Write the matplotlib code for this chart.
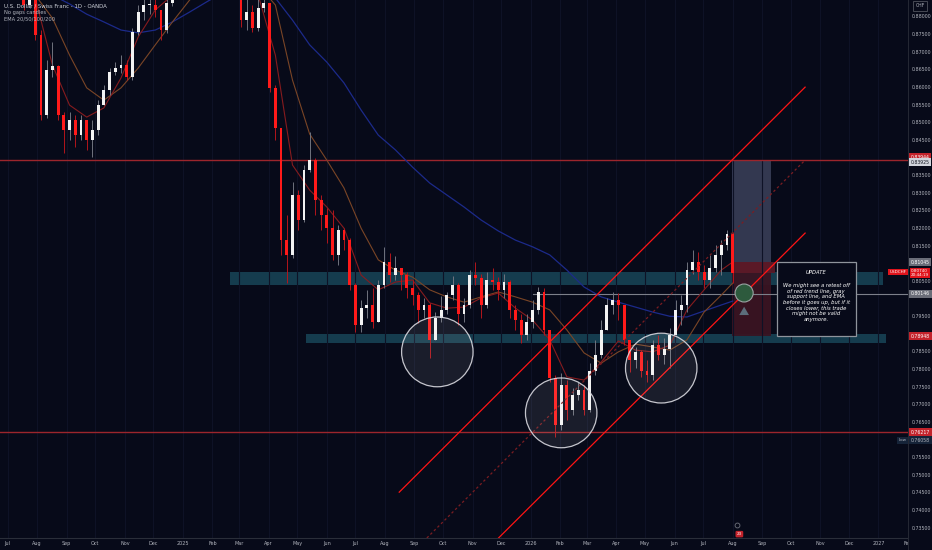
import matplotlib
matplotlib.use("Agg")
import matplotlib.pyplot as plt
import matplotlib.dates as mdates
from matplotlib.patches import Rectangle, Ellipse
from matplotlib.transforms import blended_transform_factory
import numpy as np
import pandas as pd

# USDCHF daily, every 6 days
candle_dates = pd.date_range("2024-06-24", periods=129, freq="6D")
first_open = 0.8930
closes = [0.8960, 0.8990, 0.8950, 0.8920, 0.8834, 0.8880, 0.8749, 0.8522, 0.8650, 0.8660,
          0.8522, 0.8479, 0.8508, 0.8465, 0.8508, 0.8451, 0.8479, 0.8550, 0.8593, 0.8644,
          0.8655, 0.8664, 0.8630, 0.8757, 0.8814, 0.8834, 0.8834, 0.8820, 0.8763, 0.8840,
          0.8890, 0.8930, 0.8970, 0.9000, 0.9020, 0.9050, 0.9080, 0.9040, 0.9060, 0.9000,
          0.8950, 0.8900, 0.8791, 0.8814, 0.8769, 0.8825, 0.8840, 0.8598, 0.8485, 0.8167,
          0.8125, 0.8295, 0.8224, 0.8366, 0.8394, 0.8281, 0.8238, 0.8201, 0.8125, 0.8196,
          0.8167, 0.8040, 0.7926, 0.7974, 0.7983, 0.7935, 0.8040, 0.8105, 0.8068, 0.8088,
          0.8068, 0.8031, 0.8011, 0.7969, 0.7983, 0.7884, 0.7946, 0.7969, 0.8011, 0.8040,
          0.7957, 0.7983, 0.8068, 0.8060, 0.7983, 0.8054, 0.8048, 0.8025, 0.8048, 0.7969,
          0.7940, 0.7898, 0.7935, 0.7969, 0.8020, 0.7912, 0.7776, 0.7642, 0.7756, 0.7685,
          0.7727, 0.7742, 0.7685, 0.7797, 0.7841, 0.7912, 0.7983, 0.7997, 0.7983, 0.7884,
          0.7827, 0.7850, 0.7797, 0.7784, 0.7870, 0.7841, 0.7858, 0.7898, 0.7969, 0.7983,
          0.8082, 0.8105, 0.8077, 0.8054, 0.8088, 0.8125, 0.8153, 0.8185, 0.8074]
highs = [0.8990, 0.9020, 0.9000, 0.8970, 0.8925, 0.8920, 0.8890, 0.8763, 0.8678, 0.8729,
         0.8664, 0.8530, 0.8530, 0.8522, 0.8522, 0.8508, 0.8508, 0.8564, 0.8607, 0.8655,
         0.8672, 0.8692, 0.8678, 0.8769, 0.8834, 0.8860, 0.8870, 0.8860, 0.8820, 0.8870,
         0.8920, 0.8960, 0.9000, 0.9030, 0.9060, 0.9090, 0.9120, 0.9100, 0.9100, 0.9060,
         0.9000, 0.8950, 0.8900, 0.8860, 0.8834, 0.8860, 0.8870, 0.8840, 0.8607, 0.8485,
         0.8238, 0.8332, 0.8309, 0.8380, 0.8474, 0.8400, 0.8295, 0.8258, 0.8252, 0.8210,
         0.8201, 0.8173, 0.8045, 0.7997, 0.8025, 0.8031, 0.8054, 0.8147, 0.8130, 0.8122,
         0.8088, 0.8077, 0.8054, 0.8020, 0.8003, 0.7990, 0.7963, 0.8008, 0.8020, 0.8065,
         0.8045, 0.8003, 0.8082, 0.8105, 0.8070, 0.8077, 0.8088, 0.8062, 0.8071, 0.8055,
         0.7983, 0.7957, 0.7957, 0.7997, 0.8034, 0.8030, 0.7912, 0.7784, 0.7790, 0.7770,
         0.7747, 0.7764, 0.7756, 0.7818, 0.7884, 0.7940, 0.8003, 0.8020, 0.8017, 0.7983,
         0.7884, 0.7864, 0.7855, 0.7827, 0.7884, 0.7898, 0.7890, 0.7918, 0.7997, 0.8011,
         0.8105, 0.8139, 0.8133, 0.8096, 0.8125, 0.8153, 0.8167, 0.8196, 0.8190]
lows = [0.8920, 0.8950, 0.8920, 0.8880, 0.8820, 0.8825, 0.8735, 0.8508, 0.8513, 0.8630,
        0.8508, 0.8414, 0.8451, 0.8431, 0.8451, 0.8423, 0.8403, 0.8465, 0.8550, 0.8578,
        0.8635, 0.8641, 0.8621, 0.8621, 0.8750, 0.8791, 0.8808, 0.8800, 0.8735, 0.8755,
        0.8830, 0.8880, 0.8930, 0.8960, 0.8980, 0.9010, 0.9030, 0.9000, 0.9020, 0.8960,
        0.8900, 0.8860, 0.8771, 0.8763, 0.8757, 0.8760, 0.8814, 0.8587, 0.8451, 0.8125,
        0.8045, 0.8116, 0.8196, 0.8218, 0.8360, 0.8238, 0.8196, 0.8159, 0.8110, 0.8096,
        0.8139, 0.8025, 0.7906, 0.7906, 0.7946, 0.7918, 0.7935, 0.8031, 0.8048, 0.8054,
        0.8025, 0.8003, 0.7983, 0.7932, 0.7946, 0.7832, 0.7884, 0.7935, 0.7957, 0.7997,
        0.7926, 0.7935, 0.7975, 0.8040, 0.7946, 0.7975, 0.8025, 0.7997, 0.8003, 0.7946,
        0.7912, 0.7875, 0.7884, 0.7918, 0.7957, 0.7898, 0.7764, 0.7608, 0.7628, 0.7656,
        0.7670, 0.7713, 0.7670, 0.7679, 0.7784, 0.7832, 0.7912, 0.7957, 0.7940, 0.7870,
        0.7792, 0.7803, 0.7778, 0.7764, 0.7770, 0.7827, 0.7815, 0.7804, 0.7898, 0.7926,
        0.7963, 0.8071, 0.8054, 0.8031, 0.8031, 0.8077, 0.8068, 0.8139, 0.8045]

# EMA lines, read at every third candle plus the last one
ema_idx = list(range(0, 127, 3)) + [128]
ema20 = [0.8905, 0.8891, 0.8854, 0.8664, 0.8550, 0.8516, 0.8542, 0.8627, 0.8743, 0.8820,
         0.8862, 0.8905, 0.8919, 0.8911, 0.8891, 0.8862, 0.8692, 0.8380, 0.8309, 0.8261,
         0.8201, 0.8068, 0.8026, 0.8048, 0.8054, 0.7989, 0.7974, 0.7977, 0.8003, 0.8017,
         0.7974, 0.7940, 0.7884, 0.7779, 0.7770, 0.7821, 0.7881, 0.7855, 0.7850, 0.7869,
         0.7969, 0.8026, 0.8082, 0.8105]
ema50 = [0.8933, 0.8905, 0.8862, 0.8797, 0.8692, 0.8599, 0.8564, 0.8599, 0.8655, 0.8721,
         0.8786, 0.8848, 0.8891, 0.8919, 0.8919, 0.8891, 0.8834, 0.8621, 0.8468, 0.8394,
         0.8315, 0.8201, 0.8111, 0.8082, 0.8062, 0.8026, 0.8006, 0.7991, 0.8006, 0.8020,
         0.8006, 0.7991, 0.7969, 0.7912, 0.7847, 0.7818, 0.7850, 0.7872, 0.7864, 0.7855,
         0.7884, 0.7963, 0.8011, 0.8045]
ema100 = [0.9018, 0.8962, 0.8919, 0.8862, 0.8837, 0.8808, 0.8786, 0.8763, 0.8755, 0.8763,
          0.8786, 0.8814, 0.8843, 0.8871, 0.8891, 0.8882, 0.8854, 0.8791, 0.8721, 0.8672,
          0.8613, 0.8536, 0.8465, 0.8423, 0.8374, 0.8329, 0.8295, 0.8261, 0.8224, 0.8193,
          0.8167, 0.8148, 0.8125, 0.8082, 0.8034, 0.8006, 0.7991, 0.7977, 0.7963, 0.7951,
          0.7949, 0.7966, 0.7983, 0.7994]

month_starts = pd.date_range("2024-07-01", "2027-02-01", freq="MS")
month_labels = ["Jul", "Aug", "Sep", "Oct", "Nov", "Dec", "2025", "Feb", "Mar", "Apr", "May",
                "Jun", "Jul", "Aug", "Sep", "Oct", "Nov", "Dec", "2026", "Feb", "Mar", "Apr",
                "May", "Jun", "Jul", "Aug", "Sep", "Oct", "Nov", "Dec", "2027", "Feb"]
price_ticks = [0.735, 0.740, 0.745, 0.750, 0.755, 0.760, 0.765, 0.770, 0.775, 0.780,
               0.785, 0.790, 0.795, 0.800, 0.805, 0.810, 0.815, 0.820, 0.825, 0.830,
               0.835, 0.840, 0.845, 0.850, 0.855, 0.860, 0.865, 0.870, 0.875, 0.880]

# drawings on the chart
resistance = 0.83944
support_low = 0.76217
gray_support = 0.80146
entry, target, stop = 0.81045, 0.83944, 0.78948
last_close = 0.80740
low_price = 0.76058
upper_zone = ("2025-02-19", "2027-01-06", 0.8040, 0.8077)
lower_zone = ("2025-05-10", "2027-01-09", 0.7875, 0.7901)
channel_upper = (("2025-08-16", 0.7452), ("2026-10-16", 0.8601))
channel_lower = (("2025-11-26", 0.7316), ("2026-10-16", 0.8187))
channel_mid = (("2025-09-14", 0.7322), ("2026-10-16", 0.8394))
circles = [("2025-09-25", 0.7850), ("2026-02-02", 0.7677), ("2026-05-18", 0.7804)]
note = ("UPDATE",
        "We might see a retest off\nof red trend line, gray\nsupport line, and EMA\n"
        "before it goes up, but if it\ncloses lower, this trade\nmight not be valid\nanymore.")

BG = "#070a19"
TXT = "#b2b5be"
Y_TOP, Y_BOTTOM = 0.88482, 0.73220
W, H = 932, 550


def d(s):
    return mdates.date2num(pd.Timestamp(s))


fig = plt.figure(figsize=(W / 100, H / 100), dpi=100, facecolor=BG)
ax = fig.add_axes([0, 12 / H, 908 / W, 538 / H], facecolor=BG)
ax.set_xlim(d("2024-06-23"), d("2027-01-31"))
ax.set_ylim(Y_BOTTOM, Y_TOP)

# month grid + labels
ax.set_xticks(mdates.date2num(month_starts))
ax.set_xticklabels(month_labels, fontsize=3.5, color=TXT)
ax.tick_params(axis="x", length=0, pad=2.5)
ax.set_yticks([])
ax.grid(axis="x", color="#0e1226", lw=0.8)
for side in ["top", "left", "right"]:
    ax.spines[side].set_visible(False)
ax.spines["bottom"].set_color("#2a2e39")
ax.spines["bottom"].set_linewidth(0.8)

# zones
for z in [upper_zone, lower_zone]:
    ax.add_patch(Rectangle((d(z[0]), z[2]), d(z[1]) - d(z[0]), z[3] - z[2],
                           facecolor="#2a8299", alpha=0.42, lw=0, zorder=1))

# long position tool
x0, x1 = d("2026-07-31"), d("2026-09-10")
ax.add_patch(Rectangle((x0, entry), x1 - x0, target - entry, facecolor="#393e57",
                       alpha=0.9, lw=0, zorder=1))
ax.add_patch(Rectangle((x0, stop), x1 - x0, entry - stop, facecolor="#3a1422",
                       alpha=0.95, lw=0, zorder=1))
ax.add_patch(Rectangle((x0, last_close), x1 - x0 + 4, entry - last_close,
                       facecolor="#5e1a28", alpha=0.9, lw=0, zorder=1))

# horizontal levels
ax.axhline(resistance, color="#9c252c", lw=1.0, zorder=2)
ax.axhline(support_low, color="#9c252c", lw=1.0, zorder=2)
ax.plot([d("2026-01-03"), d("2027-02-05")], [gray_support] * 2, color="#7d808a", lw=0.8, zorder=2)

# EMAs
x = mdates.date2num(candle_dates)
ax.plot(x[ema_idx], ema100, color="#1c2a8a", lw=0.9, zorder=2)
ax.plot(x[ema_idx], ema50, color="#7a4526", lw=0.8, zorder=2)
ax.plot(x[ema_idx], ema20, color="#861b1e", lw=0.8, zorder=2)

# candles
c = np.array(closes)
o = np.array([first_open] + closes[:-1])
up = c >= o
ax.vlines(x, lows, highs, colors=np.where(up, "#70737e", "#b3151c"), lw=0.7, zorder=3)
ax.bar(x, np.maximum(np.abs(c - o), 0.0003), bottom=np.minimum(c, o), width=3.0,
       color=np.where(up, "#f2f2f2", "#ff1a1a"), lw=0, zorder=4)

# channel
for (a, b), ls, col in [(channel_upper, "-", "#ff1414"), (channel_lower, "-", "#ff1414"),
                        (channel_mid, (0, (2, 2)), "#7a1d22")]:
    ax.plot([d(a[0]), d(b[0])], [a[1], b[1]], color=col, lw=0.9, ls=ls, zorder=5)

# circled lows
for cd, cp in circles:
    ax.add_patch(Ellipse((d(cd), cp), 75, 0.0198, facecolor=(1, 1, 1, 0.08),
                         edgecolor=(0.85, 0.85, 0.88, 0.9), lw=0.9, zorder=5))

# retest marker + arrow
ax.add_patch(Ellipse((d("2026-08-13"), 0.8017), 19, 0.0051, facecolor="#2d5a3d",
                     edgecolor="#9aa3a3", lw=0.8, zorder=6))
ax.annotate("", xy=(d("2026-08-13"), 0.7986), xytext=(d("2026-08-13"), 0.7958),
            arrowprops=dict(arrowstyle="simple,head_width=0.7,head_length=0.6,tail_width=0.35",
                            color="#5c6d7b", lw=0), zorder=6)

# note box
bx0, bx1 = d("2026-09-16"), d("2026-12-08")
ax.add_patch(Rectangle((bx0, 0.78950), bx1 - bx0, 0.81049 - 0.78950, facecolor=BG,
                       edgecolor="#8f949c", lw=0.9, zorder=7))
ax.text((bx0 + bx1) / 2, 0.8076, note[0], fontsize=3.8, style="italic", color="white",
        ha="center", va="center", zorder=8)
ax.text((bx0 + bx1) / 2, 0.7990, note[1], fontsize=3.8, style="italic", color="white",
        ha="center", va="center", linespacing=1.15, zorder=8)

# event badges at the bottom
ax.plot(d("2026-08-06"), 0.7358, "o", ms=3.5, mfc="none", mec="#70737e", mew=0.6, zorder=6)
ax.text(d("2026-08-08"), 0.7333, "23", fontsize=3, color="white", ha="center", va="center",
        zorder=6, bbox=dict(boxstyle="round,pad=0.3", fc="#c3232b", ec="none"))

# legend text
fig.text(4 / W, 1 - 6 / H, "U.S. Dollar / Swiss Franc - 1D - OANDA", fontsize=3.9,
         color="#d1d4dc", va="center")
fig.text(4 / W, 1 - 12.5 / H, "No gaps candles", fontsize=3.7, color=TXT, va="center")
fig.text(4 / W, 1 - 19 / H, "EMA 20/50/100/200", fontsize=3.7, color=TXT, va="center")

# left-of-scale tags
tr = blended_transform_factory(ax.transAxes, ax.transData)
ax.text(0.9985, 0.8077, "USDCHF", transform=tr, fontsize=3.0, color="white", ha="right",
        va="center", zorder=9, bbox=dict(boxstyle="square,pad=0.3", fc="#e0141c", ec="none"))
ax.text(0.9985, 0.7599, "Low", transform=tr, fontsize=3.0, color=TXT, ha="right",
        va="center", zorder=9, bbox=dict(boxstyle="square,pad=0.3", fc="#152338", ec="none"))

# price scale panel
y_full_bottom = Y_BOTTOM - (Y_TOP - Y_BOTTOM) * 12 / 538
ax2 = fig.add_axes([908 / W, 0, 24 / W, 1], facecolor=BG, zorder=5)
ax2.set_xlim(0, 1)
ax2.set_ylim(y_full_bottom, Y_TOP)
ax2.set_xticks([])
ax2.set_yticks([])
for s in ax2.spines.values():
    s.set_visible(False)
ax2.axvline(0, color="#2a2e39", lw=1.2)

tags = [(0.8402, "0.83944", "#c3232b", "white"),
        (0.8388, "0.83925", "#d1d4dc", "#131722"),
        (entry, "0.81045", "#6a6d78", "white"),
        (gray_support, "0.80146", "#6a6d78", "white"),
        (stop, "0.78948", "#c3232b", "white"),
        (support_low, "0.76217", "#c3232b", "white"),
        (0.7599, "0.76058", "#152338", TXT)]

# scale labels, skipped where a price tag sits on top (as the platform does)
for p in price_ticks:
    if min(abs(p - t[0]) for t in tags + [(last_close,)]) < 0.0017:
        continue
    ax2.text(0.16, p, f"{p:.5f}", fontsize=3.4, color=TXT, ha="left", va="center")
ax2.text(0.5, 0.8832, "CHF", fontsize=3.3, color=TXT, ha="center", va="center",
         bbox=dict(boxstyle="square,pad=0.5", fc=BG, ec="#50535e", lw=0.6))

for p, text, fc, tc in tags:
    ax2.text(0.12, p, text, fontsize=3.3, color=tc, ha="left", va="center", zorder=6,
             bbox=dict(boxstyle="square,pad=0.35", fc=fc, ec="none"))
ax2.text(0.12, 0.8074, "0.80740\n20:44:19", fontsize=3.0, color="white", ha="left",
         va="center", linespacing=1.1, zorder=7,
         bbox=dict(boxstyle="square,pad=0.3", fc="#e0141c", ec="none"))

fig.savefig("out.png", dpi=100, facecolor=BG)
